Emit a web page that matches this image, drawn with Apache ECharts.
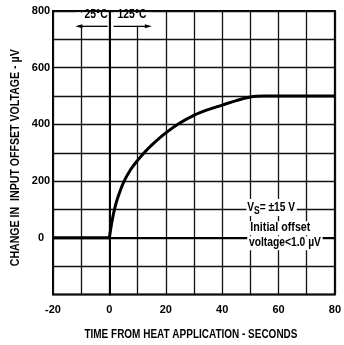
<!DOCTYPE html>
<html><head><meta charset="utf-8">
<script src="https://cdn.jsdelivr.net/npm/echarts@6/dist/echarts.min.js"></script>
<style>html,body{margin:0;padding:0;background:#fff;}#c{width:344px;height:345px;}</style>
</head><body><div id="c"></div>
<script>
var FONT = "'Liberation Sans',Arial,sans-serif";
// data
var xTicks = [-20, 0, 20, 40, 60, 80];
var yTicks = [0, 200, 400, 600, 800];
var baseline = [[-20, 0], [0, 0]];
var curveX = [0, 1, 2, 3, 5, 7.5, 10, 12.5, 15, 20, 25, 30, 35, 40, 45, 50, 55, 80];
var curveY = [0, 62, 108, 142, 195, 240, 273, 302, 327, 370, 405, 432, 452, 468, 484, 497, 500, 500];
var xTitle = 'TIME FROM HEAT APPLICATION - SECONDS';
var yTitle = 'CHANGE IN  INPUT OFFSET VOLTAGE - \u00b5V';
var noteLines = ["Initial offset", "voltage<1.0 \u00b5V"];

var curve = curveX.map(function (x, i) { return [x, curveY[i]]; });
var chart = echarts.init(document.getElementById('c'));
var lab = {fontFamily: FONT, fontWeight: 'bold', fontSize: 11, color: '#000'};
chart.setOption({
  animation: false,
  grid: {left: 53, right: 5.5, top: 11, bottom: 50.5, show: true, borderColor: '#000', borderWidth: 2, backgroundColor: 'transparent'},
  xAxis: {
    type: 'value', min: -20, max: 80, interval: 10,
    axisLine: {lineStyle: {color: '#000', width: 2}}, axisTick: {show: false},
    axisLabel: Object.assign({margin: 10, formatter: function (v) { return xTicks.indexOf(v) >= 0 ? String(v) : ''; }}, lab),
    splitLine: {lineStyle: {color: '#111', width: 1.3}}
  },
  yAxis: {
    type: 'value', min: -200, max: 800, interval: 100,
    axisLine: {lineStyle: {color: '#000', width: 2}}, axisTick: {show: false},
    axisLabel: Object.assign({margin: 12, align: 'center', formatter: function (v) { return yTicks.indexOf(v) >= 0 ? String(v) : ''; }}, lab),
    splitLine: {lineStyle: {color: '#111', width: 1.3}}
  },
  series: [
    {type: 'line', data: baseline, symbol: 'none', lineStyle: {color: '#000', width: 3}, z: 5},
    {type: 'line', data: curve, symbol: 'none', smooth: 0.35, lineStyle: {color: '#000', width: 3}, z: 5}
  ]
});

var ctx = document.createElement('canvas').getContext('2d');
function sx(text, size, target) {
  ctx.font = 'bold ' + size + 'px ' + FONT;
  return target / ctx.measureText(text).width;
}
function P(x, y) { return chart.convertToPixel({gridIndex: 0}, [x, y]); }
var TS = 12;
function T(text, pos, align, scale, extra) {
  var st = Object.assign({text: text, align: align, verticalAlign: 'middle', fontFamily: FONT, fontWeight: 'bold', fontSize: TS, fill: '#000'}, extra || {});
  return {type: 'text', x: pos[0], y: pos[1], scaleX: scale, style: st, z: 11};
}
var tempScale = sx('125\u00b0C', 12.5, 29);
var a1 = P(-11, 746), a0 = P(-0.6, 746), b0 = P(1.5, 746), b1 = P(14, 746);
var t1 = P(-0.6, 786), t2 = P(2.9, 786);
var n1 = P(48.6, 107), n2 = P(49.7, 34), n3 = P(48.9, -19);
var top800 = P(0, 800)[1];
var g = [];
g.push({type: 'rect', shape: {x: a1[0] - 2, y: top800 + 1.5, width: a0[0] - a1[0] + 1.5, height: a1[1] - top800 - 2}, style: {fill: '#fff'}, z: 10});
g.push({type: 'rect', shape: {x: b0[0] + 0.5, y: top800 + 1.5, width: b1[0] - b0[0] + 2, height: b1[1] - top800 - 2}, style: {fill: '#fff'}, z: 10});
g.push(T('25\u00b0C', t1, 'right', tempScale, {fontSize: 12.5}));
g.push(T('125\u00b0C', t2, 'left', tempScale, {fontSize: 12.5}));
g.push({type: 'line', shape: {x1: a1[0], y1: a1[1], x2: a0[0], y2: a0[1]}, style: {stroke: '#000', lineWidth: 1.3}, z: 11});
g.push({type: 'polygon', shape: {points: [[a1[0] - 3, a1[1]], [a1[0] + 4, a1[1] - 2], [a1[0] + 4, a1[1] + 2]]}, style: {fill: '#000'}, z: 11});
g.push({type: 'line', shape: {x1: b0[0], y1: b0[1], x2: b1[0], y2: b1[1]}, style: {stroke: '#000', lineWidth: 1.3}, z: 11});
g.push({type: 'polygon', shape: {points: [[b1[0] + 3, b1[1]], [b1[0] - 4, b1[1] - 2], [b1[0] - 4, b1[1] + 2]]}, style: {fill: '#000'}, z: 11});
// note
var vs = {type: 'text', x: n1[0], y: n1[1], scaleX: 0.85, style: {
  rich: {a: {fontFamily: FONT, fontWeight: 'bold', fontSize: TS, fill: '#000'}, s: {fontFamily: FONT, fontWeight: 'bold', fontSize: 10, fill: '#000', padding: [7, 0, 0, 0]}},
  text: '{a|V}{s|S}{a|= \u00b115 V}', verticalAlign: 'middle', backgroundColor: '#fff', padding: [0, 2, 0, 1]}, z: 11};
g.push(vs);
g.push(T(noteLines[0], n2, 'left', sx(noteLines[0], TS, 60), {backgroundColor: '#fff', padding: [1, 1]}));
g.push(T(noteLines[1], n3, 'left', sx(noteLines[1], TS, 72), {backgroundColor: '#fff', padding: [1, 2]}));
// axis titles
var gx0 = P(-20, -200), gx1 = P(80, 800);
g.push(T(xTitle, [(gx0[0] + gx1[0]) / 2 - 3, 335], 'center', sx(xTitle, TS, 213)));
var yt = T(yTitle, [16, (gx0[1] + gx1[1]) / 2 + 5], 'center', sx(yTitle, TS, 217));
yt.rotation = Math.PI / 2;
g.push(yt);
chart.setOption({graphic: g});
</script></body></html>
